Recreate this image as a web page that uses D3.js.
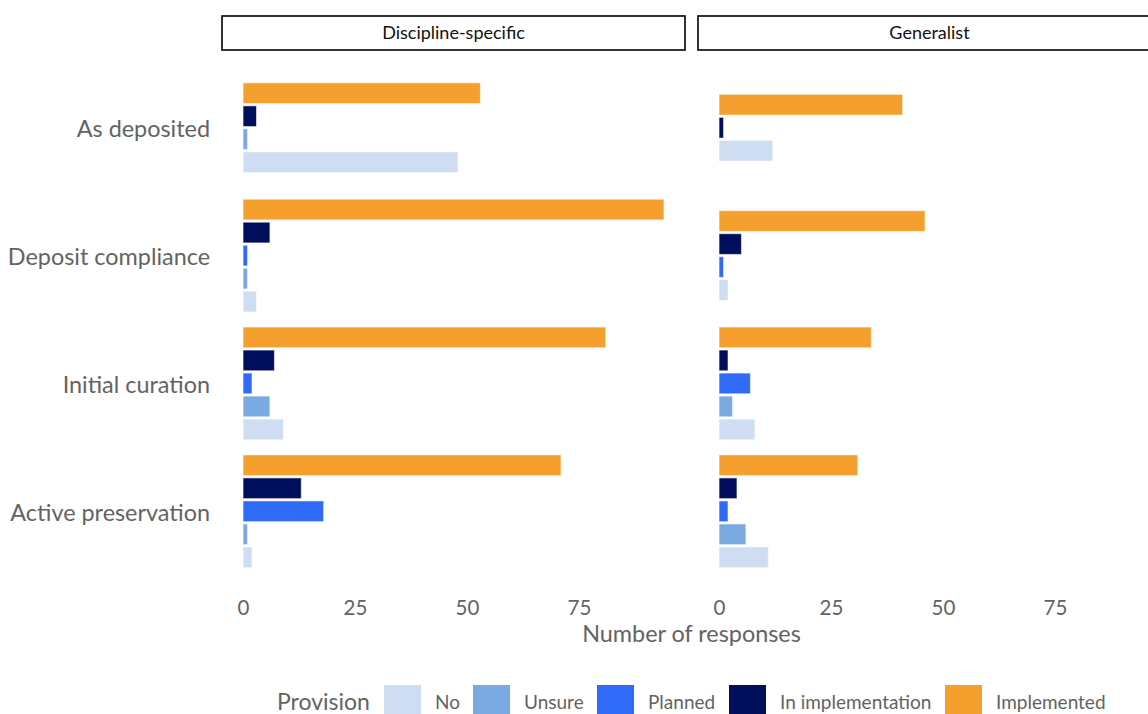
<!DOCTYPE html>
<html>
<head>
<meta charset="utf-8">
<script src="https://cdn.jsdelivr.net/npm/d3@7"></script>
<style>
  html, body { margin: 0; padding: 0; background: #fff; }
  svg { display: block; }
  text { font-family: Lato, "Open Sans", sans-serif; }
</style>
</head>
<body>
<svg id="chart" width="1148" height="714"></svg>
<script>
// ---- data ----
const categories = ["As deposited", "Deposit compliance", "Initial curation", "Active preservation"];
const facets = ["Discipline-specific", "Generalist"];
const provisions = ["No", "Unsure", "Planned", "In implementation", "Implemented"];
const provisionColors = ["#CFDDF2", "#7BAAE2", "#2F6BF6", "#000E5C", "#F5A02E"];
const xTicks = [0, 25, 50, 75];

// Discipline-specific (per category, order as categories)
const discNo       = [48, 3, 9, 2];
const discUnsure   = [1, 1, 6, 1];
const discPlanned  = [null, 1, 2, 18];
const discInImpl   = [3, 6, 7, 13];
const discImpl     = [53, 94, 81, 71];
// Generalist
const genNo        = [12, 2, 8, 11];
const genUnsure    = [null, null, 3, 6];
const genPlanned   = [null, 1, 7, 2];
const genInImpl    = [1, 5, 2, 4];
const genImpl      = [41, 46, 34, 31];

const facetSeries = {
  "Discipline-specific": { "No": discNo, "Unsure": discUnsure, "Planned": discPlanned, "In implementation": discInImpl, "Implemented": discImpl },
  "Generalist": { "No": genNo, "Unsure": genUnsure, "Planned": genPlanned, "In implementation": genInImpl, "Implemented": genImpl }
};

// ---- layout ----
const svg = d3.select("#chart");
const panelTop = 51, panelBottom = 588;
const panels = [{ x0: 222, x1: 685 }, { x0: 698, x1: 1161 }];
const color = d3.scaleOrdinal().domain(provisions).range(provisionColors);
const y = d3.scalePoint().domain(categories).range([panelTop, panelBottom]).padding(0.6);
const barStep = y.step() * 0.9 / provisions.length;
const topOrder = provisions.slice().reverse(); // Implemented at top
const grey = "#636363";

facets.forEach((facet, fi) => {
  const p = panels[fi];
  const x = d3.scaleLinear().domain([-4.7, 98.7]).range([p.x0, p.x1]);
  const g = svg.append("g");

  // strip
  g.append("rect").attr("x", p.x0).attr("y", 16).attr("width", p.x1 - p.x0).attr("height", 34)
    .attr("fill", "#fff").attr("stroke", "#000").attr("stroke-width", 1.6);
  g.append("text").attr("x", (p.x0 + p.x1) / 2).attr("y", 33).attr("dy", "0.35em")
    .attr("text-anchor", "middle").attr("font-size", 18).attr("fill", "#111").text(facet);

  // bars
  categories.forEach((cat, ci) => {
    const present = topOrder.filter(s => facetSeries[facet][s][ci] != null);
    const c = y(cat);
    const n = present.length;
    const inner = d3.scaleBand().domain(present)
      .range([c - n * barStep / 2, c + n * barStep / 2])
      .paddingInner(0.1).paddingOuter(0.05);
    g.selectAll(null).data(present).enter().append("rect")
      .attr("x", x(0))
      .attr("y", s => inner(s))
      .attr("width", s => x(facetSeries[facet][s][ci]) - x(0))
      .attr("height", inner.bandwidth())
      .attr("fill", s => color(s))
      .attr("stroke", "#fff").attr("stroke-opacity", 0.55).attr("stroke-width", 1);
  });

  // x axis tick labels
  const axis = d3.axisBottom(x).tickValues(xTicks).tickSize(0).tickPadding(0);
  const ag = g.append("g").attr("transform", `translate(0, ${panelBottom + 12})`).call(axis);
  ag.select(".domain").remove();
  ag.selectAll("text").attr("font-size", 20.5).attr("fill", grey)
    .attr("font-family", "Lato, 'Open Sans', sans-serif");
});

// y axis labels
const yAxis = d3.axisLeft(y).tickSize(0).tickPadding(0);
const yg = svg.append("g").attr("transform", "translate(210,1.5)").call(yAxis);
yg.select(".domain").remove();
yg.selectAll("text").attr("font-size", 23.4).attr("fill", grey)
  .attr("font-family", "Lato, 'Open Sans', sans-serif");

// axis title
svg.append("text").attr("x", 691.5).attr("y", 634).attr("dy", "0.35em")
  .attr("text-anchor", "middle").attr("font-size", 23.4).attr("fill", grey)
  .text("Number of responses");

// legend
const lg = svg.append("g");
const legY = 702;
lg.append("text").attr("x", 277).attr("y", legY).attr("dy", "0.35em")
  .attr("font-size", 23).attr("fill", grey).text("Provision");
const keyX = [384, 473, 597, 729, 945];
provisions.forEach((s, i) => {
  lg.append("rect").attr("x", keyX[i]).attr("y", legY - 17).attr("width", 37).attr("height", 37)
    .attr("fill", color(s));
  lg.append("text").attr("x", keyX[i] + 51).attr("y", legY).attr("dy", "0.35em")
    .attr("font-size", 19).attr("fill", grey).text(s);
});
</script>
</body>
</html>
